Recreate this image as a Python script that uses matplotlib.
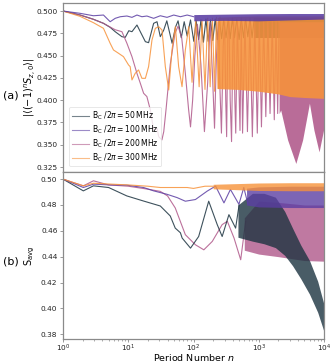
import numpy as np
import matplotlib
matplotlib.use("Agg")
import matplotlib.pyplot as plt

plt.rcParams['font.family'] = ['DejaVu Sans']
plt.rcParams['mathtext.fontset'] = 'dejavusans'

# ---------------- data ----------------
labels = [r'B$_\mathrm{C}$ /2$\pi$$=$50$\,$MHz', r'B$_\mathrm{C}$ /2$\pi$$=$100$\,$MHz',
          r'B$_\mathrm{C}$ /2$\pi$$=$200$\,$MHz', r'B$_\mathrm{C}$ /2$\pi$$=$300$\,$MHz']
colors = ['#1c3340', '#5b3ea3', '#b0588a', '#f7923a']

# (a) top panel -- sparse turning points
a50_n = [1, 1.83, 2.93, 4.17, 5.28, 6.31, 8.0, 9.0, 10.2, 11.4, 13.6, 15.3, 18.3, 20.5, 24.5, 27.6,
         31, 35, 39, 47, 53, 58, 65, 72, 80, 90, 101, 110, 120, 130, 142, 155, 168, 182, 198, 215,
         232, 250, 270, 290, 315, 340, 365, 395, 425, 460, 500, 540, 585, 630, 680, 735, 790, 850]
a50_v = [0.500, 0.4955, 0.4907, 0.4862, 0.4817, 0.4768, 0.4712, 0.4705, 0.4779, 0.4768, 0.4843, 0.4768,
         0.4656, 0.4645, 0.4862, 0.4880, 0.4712, 0.4787, 0.4890, 0.4638, 0.4820, 0.4890, 0.4700, 0.4880,
         0.4720, 0.4900, 0.4660, 0.4890, 0.4680, 0.4900, 0.4650, 0.4910, 0.4660, 0.4900, 0.4670, 0.4910,
         0.4680, 0.4900, 0.4690, 0.4900, 0.4700, 0.4910, 0.4690, 0.4920, 0.4700, 0.4910, 0.4680, 0.4920,
         0.4700, 0.4910, 0.4710, 0.4920, 0.4700, 0.4910]
a100_n = [1, 1.83, 2.93, 4.17, 5.28, 6.31, 7.55, 9.54, 11.4, 13.6, 16.2, 19.3, 24.5, 31.0, 39.3,
          49.8, 63.1, 80, 101]
a100_v = [0.500, 0.4974, 0.4947, 0.4955, 0.4880, 0.4918, 0.4936, 0.4944, 0.4929, 0.4955, 0.4936,
          0.4944, 0.4918, 0.4947, 0.4929, 0.4955, 0.4936, 0.4955, 0.4936]
a200_n = [1, 1.83, 2.93, 4.17, 5.28, 6.31, 8.0, 9.54, 11.4, 13.6, 15.3, 17.2, 19.3, 21.8, 24.5, 27.6,
          29.3, 32.8, 35, 38, 44, 52, 58, 66, 75, 84, 90, 97, 105, 115, 130, 147, 165, 180, 195,
          210, 225, 240, 255, 268, 285, 300, 312, 322, 335, 350, 365, 383, 400, 415, 430, 444, 470,
          516, 540, 565, 615, 671, 730, 798, 870, 950, 1020, 1100, 1190, 1283, 1380, 1490, 1610,
          1730, 1840, 1950, 2050]
a200_v = [0.500, 0.4955, 0.4907, 0.4862, 0.4820, 0.4790, 0.4768, 0.4638, 0.4488, 0.4300, 0.4190,
          0.4077, 0.4040, 0.3890, 0.3666, 0.3685, 0.3590, 0.3554, 0.3647, 0.3900, 0.4400, 0.4750,
          0.4830, 0.4700, 0.4300, 0.3900, 0.3700, 0.4000, 0.4500, 0.4850, 0.4400, 0.3647, 0.4200,
          0.4870, 0.4300, 0.3685, 0.4500, 0.4880, 0.4100, 0.3630, 0.4600, 0.4880, 0.4000, 0.3590,
          0.4700, 0.4890, 0.4000, 0.3535, 0.4600, 0.4890, 0.4000, 0.3630, 0.4890, 0.3660, 0.4880,
          0.3630, 0.4880, 0.3647, 0.4880, 0.3590, 0.4880, 0.3630, 0.4880, 0.3700, 0.4880, 0.3815,
          0.4880, 0.3850, 0.4880, 0.3780, 0.4880, 0.3850, 0.4880]
a300_n = [1, 1.83, 2.93, 4.17, 5.28, 5.94, 7.09, 8.45, 10.1, 10.7, 11.4, 12.8, 14.4, 16.2, 18.3,
          20.5, 23.1, 26, 29.3, 32.9, 37, 41.7, 46.8, 52.7, 59.2, 66.7, 75, 84.5, 95, 108, 122, 135,
          150, 165, 180, 195, 210, 225, 240, 255]
a300_v = [0.500, 0.4940, 0.4869, 0.4806, 0.4638, 0.4563, 0.4526, 0.4488, 0.4395, 0.4376, 0.4227,
          0.4302, 0.4339, 0.4245, 0.4245, 0.4376, 0.4675, 0.4806, 0.4824, 0.4787, 0.4376, 0.4114,
          0.4563, 0.4824, 0.4376, 0.4151, 0.4563, 0.4824, 0.4200, 0.4900, 0.4150, 0.4900, 0.4120,
          0.4920, 0.4150, 0.4920, 0.4100, 0.4930, 0.4130, 0.4930]
# (a) dense-region envelopes
a50_band_n = [850, 2000, 5000, 10000]
a50_band_lo = [0.470, 0.470, 0.470, 0.470]
a50_band_hi = [0.492, 0.492, 0.492, 0.492]
a100_band_n = [101, 300, 1000, 3000, 10000]
a100_band_lo = [0.4890, 0.4895, 0.4890, 0.4900, 0.4910]
a100_band_hi = [0.4960, 0.4965, 0.4970, 0.4972, 0.4972]
a200_band_n = [2050, 2170, 2770, 3700, 4700, 5980, 7000, 8400, 10000]
a200_band_lo = [0.3850, 0.3890, 0.3554, 0.3290, 0.3554, 0.3965, 0.3666, 0.3420, 0.3690]
a200_band_hi = [0.4880, 0.4880, 0.4880, 0.4880, 0.4880, 0.4880, 0.4880, 0.4880, 0.4880]
a300_band_n = [230, 500, 1000, 2000, 3000, 5000, 10000]
a300_band_lo = [0.4130, 0.4120, 0.4100, 0.4070, 0.4040, 0.4030, 0.4020]
a300_band_hi = [0.4930, 0.4940, 0.4945, 0.4945, 0.4945, 0.4945, 0.4945]

# (b) bottom panel -- sparse points
b50_n = [1, 2.05, 2.93, 5, 9.5, 17, 31, 44, 52.5, 63, 67, 90, 120, 171, 231, 275, 349, 442, 500]
b50_v = [0.500, 0.4909, 0.4948, 0.4935, 0.4870, 0.4831, 0.4792, 0.4715, 0.4621, 0.4585, 0.4544,
         0.4466, 0.4556, 0.4829, 0.4648, 0.4556, 0.4725, 0.4621, 0.4800]
b100_n = [1, 2.05, 2.93, 5.28, 9.5, 17.2, 24.5, 39, 56, 75, 107, 162, 218, 293, 368, 497, 590, 680]
b100_v = [0.500, 0.4935, 0.4961, 0.4955, 0.4953, 0.4935, 0.4909, 0.4883, 0.4857, 0.4829, 0.4842,
          0.4907, 0.4946, 0.4816, 0.4920, 0.4805, 0.4935, 0.4810]
b200_n = [1, 2.05, 2.93, 5, 10, 20, 31, 40, 52.5, 75, 107, 144, 194, 275, 330, 418, 529, 630]
b200_v = [0.500, 0.4948, 0.4987, 0.4955, 0.4945, 0.4922, 0.4905, 0.4870, 0.4777, 0.4570, 0.4492,
          0.4453, 0.4518, 0.4648, 0.4674, 0.4544, 0.4376, 0.4674]
b300_n = [1, 2.05, 2.93, 5, 10, 20, 31, 50, 80, 100, 150, 200]
b300_v = [0.500, 0.4948, 0.4968, 0.4962, 0.4955, 0.4945, 0.4935, 0.4935, 0.4935, 0.4928, 0.4945,
          0.4945]
# (b) dense-region envelopes
b50_band_n = [480, 800, 1200, 1800, 2500, 3300, 4400, 6000, 8000, 10000]
b50_band_lo = [0.455, 0.452, 0.450, 0.447, 0.441, 0.433, 0.423, 0.411, 0.397, 0.382]
b50_band_hi = [0.480, 0.489, 0.489, 0.486, 0.475, 0.462, 0.449, 0.437, 0.421, 0.403]
b100_band_n = [650, 1000, 3000, 10000]
b100_band_lo = [0.4800, 0.4785, 0.4780, 0.4780]
b100_band_hi = [0.4930, 0.4940, 0.4945, 0.4945]
b200_band_n = [600, 1000, 2000, 5000, 10000]
b200_band_lo = [0.4450, 0.4420, 0.4400, 0.4370, 0.4365]
b200_band_hi = [0.4700, 0.4830, 0.4820, 0.4800, 0.4800]
b300_band_n = [200, 1000, 3000, 10000]
b300_band_lo = [0.4925, 0.4912, 0.4910, 0.4910]
b300_band_hi = [0.4960, 0.4970, 0.4972, 0.4972]

a_yticks = [0.325, 0.350, 0.375, 0.400, 0.425, 0.450, 0.475, 0.500]
b_yticks = [0.38, 0.40, 0.42, 0.44, 0.46, 0.48, 0.50]
x_ticks = [1, 10, 100, 1000, 10000]

# ---------------- figure ----------------
W, H = 336, 363
fig = plt.figure(figsize=(W / 100, H / 100), dpi=100)
L, R = 63 / W, 324 / W
axA = fig.add_axes([L, 1 - 172 / H, R - L, (172 - 3) / H])
axB = fig.add_axes([L, 1 - 339 / H, R - L, (339 - 172) / H])

lw = 0.8
al = 0.85
top_sets = [(a50_n, a50_v, a50_band_n, a50_band_lo, a50_band_hi),
            (a100_n, a100_v, a100_band_n, a100_band_lo, a100_band_hi),
            (a200_n, a200_v, a200_band_n, a200_band_lo, a200_band_hi),
            (a300_n, a300_v, a300_band_n, a300_band_lo, a300_band_hi)]
bot_sets = [(b50_n, b50_v, b50_band_n, b50_band_lo, b50_band_hi),
            (b100_n, b100_v, b100_band_n, b100_band_lo, b100_band_hi),
            (b200_n, b200_v, b200_band_n, b200_band_lo, b200_band_hi),
            (b300_n, b300_v, b300_band_n, b300_band_lo, b300_band_hi)]
top_order = [0, 2, 3, 1]
bot_order = [2, 0, 1, 3]

handles = [None] * 4
for k, i in enumerate(top_order):
    n, v, bn, blo, bhi = top_sets[i]
    axA.fill_between(bn, blo, bhi, color=colors[i], alpha=0.88, lw=0, zorder=2 + k * 0.1)
    h, = axA.plot(n, v, color=colors[i], lw=lw, alpha=al, label=labels[i], zorder=2 + k * 0.1)
    handles[i] = h
for k, i in enumerate(bot_order):
    n, v, bn, blo, bhi = bot_sets[i]
    axB.fill_between(bn, blo, bhi, color=colors[i], alpha=0.8, lw=0, zorder=2 + k * 0.1)
    axB.plot(n, v, color=colors[i], lw=lw, alpha=al, zorder=2 + k * 0.1)

spine_c = '#8a8a8a'
for ax in (axA, axB):
    ax.set_xscale('log')
    ax.set_xlim(1, 1e4)
    ax.set_xticks(x_ticks)
    for s in ax.spines.values():
        s.set_color(spine_c)
        s.set_linewidth(0.9)
    ax.tick_params(axis='both', which='major', labelsize=5.3, color=spine_c, length=2.5,
                   width=0.6, labelcolor='#222222', pad=1.5)
    ax.tick_params(axis='x', which='minor', color=spine_c, length=1.5, width=0.5)
axB.tick_params(axis='x', which='major', pad=0.3)

axA.set_ylim(0.3194, 0.509)
axA.set_yticks(a_yticks)
axA.set_yticklabels([f'{t:.3f}' for t in a_yticks])
axA.tick_params(axis='x', which='both', labelbottom=False)
axB.set_ylim(0.3763, 0.5055)
axB.set_yticks(b_yticks)
axB.set_yticklabels([f'{t:.2f}' for t in b_yticks])

axA.set_ylabel(r'$|\langle(-1)^n S_{z,0}\rangle|$', fontsize=7)
axB.set_ylabel(r'S$_{\mathrm{avg}}$', fontsize=7)
axB.set_xlabel(r'Period Number $n$', fontsize=6.8)
axB.xaxis.set_label_coords(0.5, -0.078)
axA.yaxis.set_label_coords(-0.10, 0.5)
axB.yaxis.set_label_coords(-0.10, 0.5)

fig.text(11 / W, 1 - 95 / H, '(a)', fontsize=8, ha='center', va='center')
fig.text(11 / W, 1 - 262 / H, '(b)', fontsize=8, ha='center', va='center')

leg = axA.legend(handles=handles, loc='lower left', fontsize=5.5, frameon=True,
                 bbox_to_anchor=(0.01, 0.01), handlelength=2.2, handletextpad=0.4,
                 borderpad=0.35, labelspacing=0.2, fancybox=True)
leg.get_frame().set_edgecolor('#dddddd')
leg.get_frame().set_linewidth(0.6)
for lh in leg.get_lines():
    lh.set_alpha(0.6)

fig.savefig('out.png', dpi=100)
